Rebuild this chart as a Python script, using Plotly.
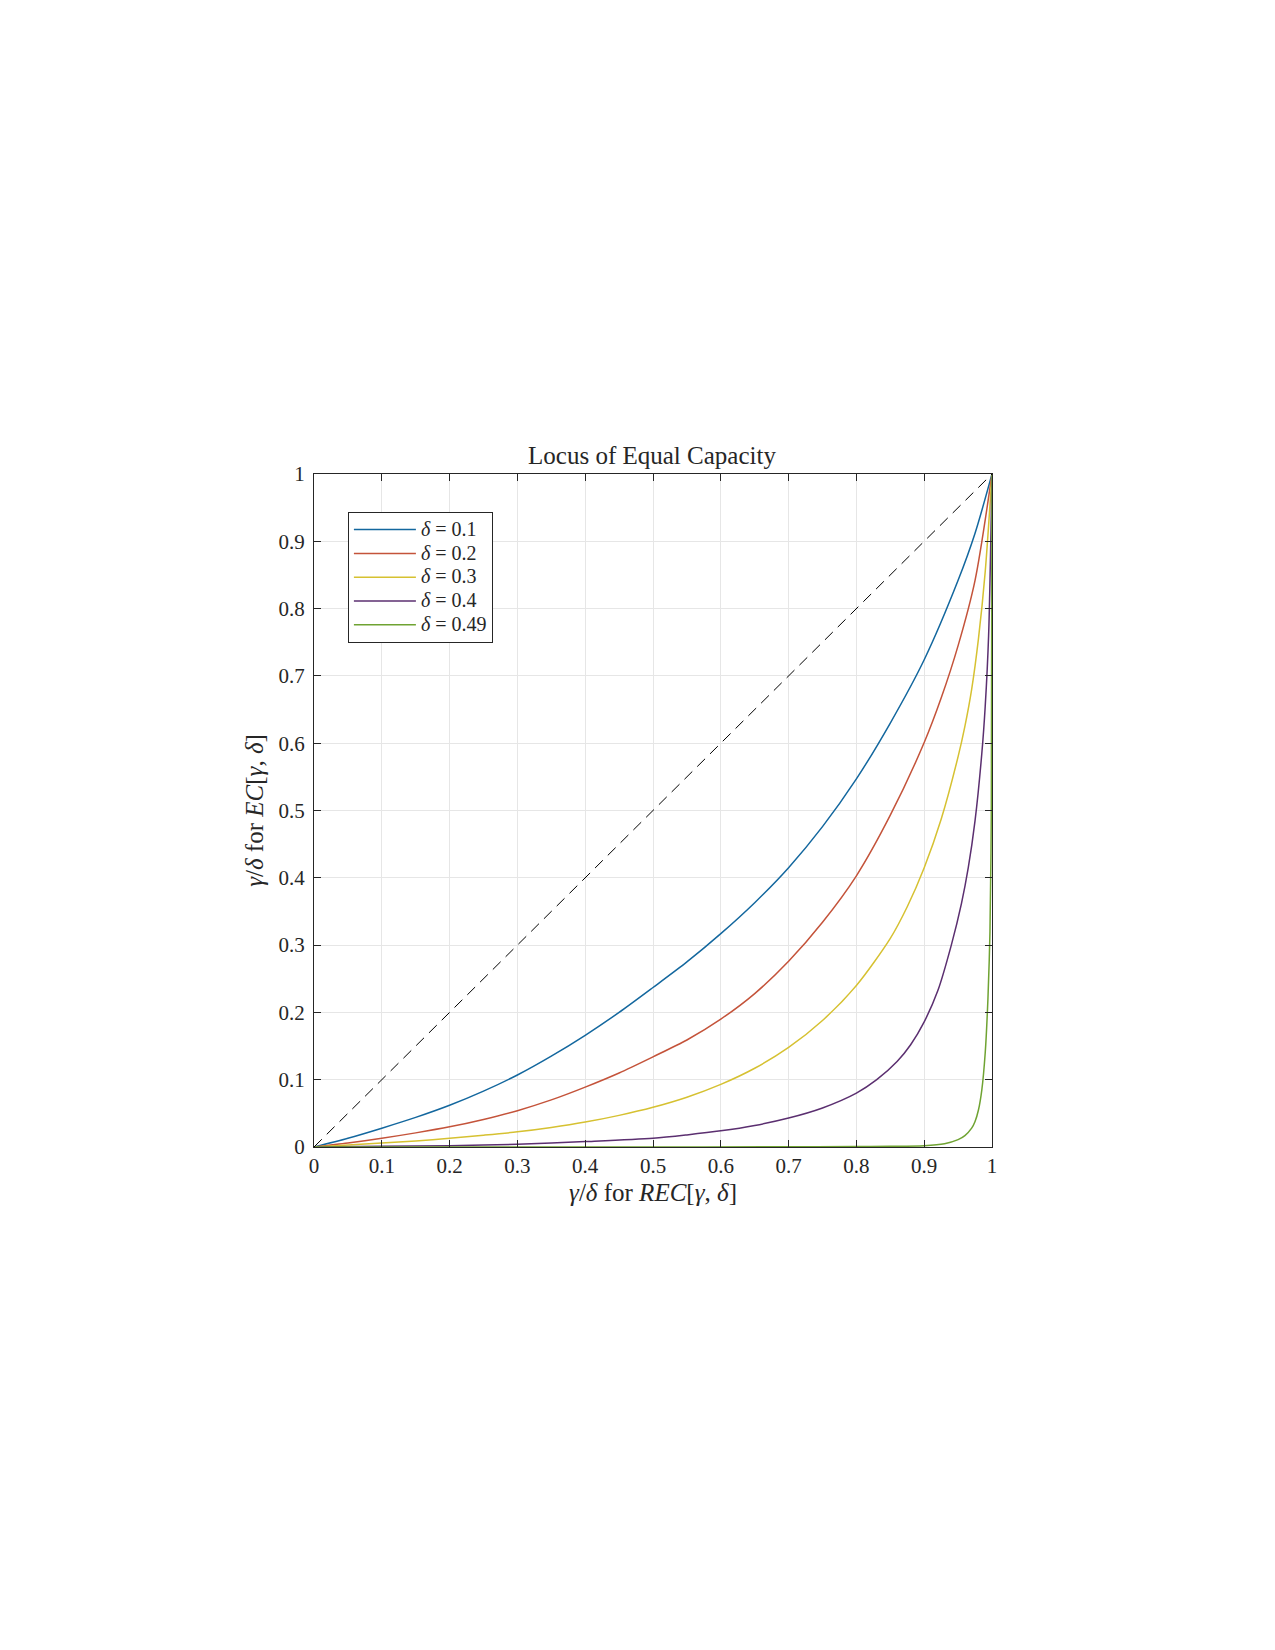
import plotly.graph_objects as go

# ---- data ----
x_d01 = [0, 0.05, 0.1, 0.15, 0.2, 0.25, 0.3, 0.35, 0.4, 0.45, 0.5, 0.55, 0.6, 0.65, 0.7, 0.75, 0.8, 0.85, 0.9, 0.95, 0.975, 1.0]
y_d01 = [0, 0.013, 0.028, 0.044, 0.062, 0.083, 0.107, 0.135, 0.166, 0.2, 0.237, 0.275, 0.317, 0.363, 0.415, 0.476, 0.547, 0.63, 0.724, 0.842, 0.912, 1.0]

x_d02 = [0, 0.05, 0.1, 0.15, 0.2, 0.25, 0.3, 0.35, 0.4, 0.45, 0.5, 0.55, 0.6, 0.65, 0.7, 0.75, 0.8, 0.85, 0.9, 0.925, 0.95, 0.975, 1.0]
y_d02 = [0, 0.006, 0.013, 0.021, 0.03, 0.041, 0.054, 0.07, 0.089, 0.11, 0.134, 0.159, 0.19, 0.228, 0.276, 0.334, 0.403, 0.493, 0.601, 0.667, 0.745, 0.842, 1.0]

x_d03 = [0, 0.05, 0.1, 0.15, 0.2, 0.25, 0.3, 0.35, 0.4, 0.45, 0.5, 0.55, 0.6, 0.65, 0.7, 0.75, 0.8, 0.85, 0.875, 0.9, 0.925, 0.95, 0.96, 0.97, 0.98, 0.99, 1.0]
y_d03 = [0, 0.003, 0.006, 0.009, 0.013, 0.0175, 0.0225, 0.029, 0.037, 0.047, 0.059, 0.074, 0.093, 0.117, 0.148, 0.188, 0.24, 0.31, 0.357, 0.415, 0.487, 0.58, 0.625, 0.68, 0.755, 0.855, 1.0]

x_d04 = [0, 0.1, 0.2, 0.3, 0.4, 0.5, 0.55, 0.6, 0.65, 0.7, 0.75, 0.8, 0.83, 0.86, 0.88, 0.9, 0.92, 0.94, 0.955, 0.965, 0.975, 0.985, 0.99, 0.995, 1.0]
y_d04 = [0, 0.001, 0.002, 0.004, 0.008, 0.013, 0.018, 0.024, 0.032, 0.043, 0.058, 0.08, 0.1, 0.127, 0.152, 0.186, 0.232, 0.3, 0.362, 0.415, 0.485, 0.585, 0.655, 0.76, 1.0]

x_d049 = [0, 0.5, 0.7, 0.8, 0.85, 0.9, 0.93, 0.95, 0.96, 0.97, 0.975, 0.98, 0.985, 0.99, 0.994, 0.997, 0.999, 1.0]
y_d049 = [0, 0.0001, 0.0003, 0.0006, 0.001, 0.002, 0.005, 0.011, 0.017, 0.028, 0.038, 0.055, 0.085, 0.14, 0.22, 0.32, 0.5, 1.0]

x_diag = [0, 1]
y_diag = [0, 1]

delta_labels = ["0.1", "0.2", "0.3", "0.4", "0.49"]
series_x = [x_d01, x_d02, x_d03, x_d04, x_d049]
series_y = [y_d01, y_d02, y_d03, y_d04, y_d049]
colors = ["#13679e", "#c4533a", "#d6c131", "#5b2f70", "#6fa332"]

tick_vals = [0, 0.1, 0.2, 0.3, 0.4, 0.5, 0.6, 0.7, 0.8, 0.9, 1]
tick_text = ["0", "0.1", "0.2", "0.3", "0.4", "0.5", "0.6", "0.7", "0.8", "0.9", "1"]

FONT = "Liberation Serif"
INK = "#262626"

fig = go.Figure()
for lab, xs, ys, c in zip(delta_labels, series_x, series_y, colors):
    name = '<span style="font-size:20px"><i>δ</i> = ' + lab + '</span>'
    fig.add_trace(go.Scatter(x=xs, y=ys, mode="lines", name=name,
                             line=dict(color=c, width=1.5, shape="spline", smoothing=0.8)))
fig.add_trace(go.Scatter(x=x_diag, y=y_diag, mode="lines", showlegend=False,
                         line=dict(color="black", width=1, dash="11px,7px")))

axis_common = dict(
    range=[0, 1], tickvals=tick_vals, ticktext=tick_text,
    showline=True, linecolor=INK, linewidth=1, mirror="ticks",
    ticks="inside", ticklen=7, tickcolor=INK, tickwidth=1,
    showgrid=True, gridcolor="#e6e6e6", gridwidth=1, zeroline=False,
    tickfont=dict(family=FONT, size=21, color=INK),
    automargin=False,
)

fig.update_layout(
    width=1275, height=1650,
    paper_bgcolor="white", plot_bgcolor="white",
    margin=dict(l=306, r=291, t=466, b=511),
    title=dict(text="Locus of Equal Capacity", x=(652 - 8) / 1275, xanchor="center",
               y=1 - (455 - 8) / 1650, yanchor="middle",
               font=dict(family=FONT, size=25, color=INK)),
    xaxis=dict(**axis_common,
               title=dict(text="<i>γ</i>/<i>δ</i> for <i>REC</i>[<i>γ</i>, <i>δ</i>]",
                          font=dict(family=FONT, size=25, color=INK), standoff=6)),
    yaxis=dict(**axis_common, ticklabelstandoff=4,
               title=dict(text="<i>γ</i>/<i>δ</i> for <i>EC</i>[<i>γ</i>, <i>δ</i>]",
                          font=dict(family=FONT, size=25, color=INK), standoff=7)),
    legend=dict(x=0.05, y=0.944, xanchor="left", yanchor="top",
                bgcolor="white", bordercolor=INK, borderwidth=1,
                font=dict(family=FONT, size=16, color=INK),
                itemwidth=62, tracegroupgap=0),
    showlegend=True,
)

fig.write_html("out.html")
